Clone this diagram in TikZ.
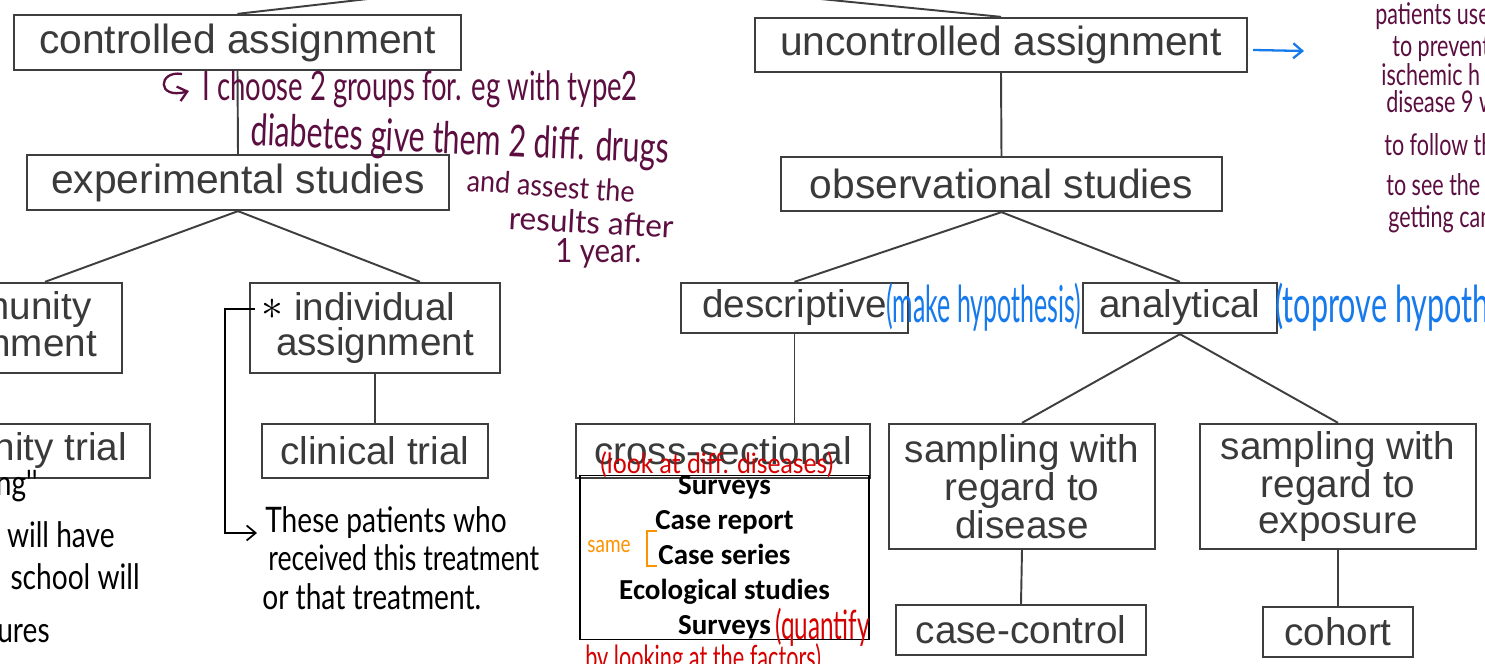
\documentclass[tikz,border=0pt]{standalone}
\usepackage{fontspec}
\setmainfont{Liberation Sans}
\newfontfamily\hand{Lato}
\newfontfamily\calib{Carlito}
\usepackage{xcolor}
\usepackage{tikz}
\usetikzlibrary{arrows.meta, positioning, calc}
\definecolor{boxgray}{RGB}{62,62,62}
\definecolor{txtgray}{RGB}{58,58,58}
\definecolor{inkplum}{RGB}{92,14,64}
\definecolor{inkblue}{RGB}{22,122,236}
\definecolor{inkred}{RGB}{214,0,0}
\definecolor{inkorange}{RGB}{255,146,0}
\newcommand\handfont[2]{\hand\addfontfeatures{FakeStretch=#2}\fontsize{#1}{#1}\selectfont}
\tikzset{
  box/.style={draw=boxgray, line width=1.3pt, text=txtgray, align=center, inner sep=0pt,
    font=\fontsize{22}{20.3}\selectfont},
  topbox/.style={box, font=\fontsize{23.2}{20.3}\selectfont},
  link/.style={draw=boxgray, line width=1.1pt},
  ink/.style={inner sep=0pt, anchor=base west},
  inkl/.style={inner sep=0pt, anchor=base east},
  barb/.style={-{Straight Barb[length=1.8mm, width=3mm]}}
}

\begin{document}
\begin{tikzpicture}[x=0.2mm, y=-0.2mm]
\useasboundingbox (0,0) rectangle (1485,664);
\fill[white] (0,0) rectangle (1485,664);
\clip (0,0) rectangle (1485,664);

% left branch
\node[topbox, minimum width=89.4mm, minimum height=11mm] (ctrl) at (237.5,42.5) {controlled assignment};
\node[topbox, minimum width=84.4mm, minimum height=11mm] (expt) at (238,182.5)  {experimental studies};
\node[box, minimum width=49.6mm, minimum height=18mm]   (comA) at (-2,328)     {community\\assignment};
\node[box, minimum width=50mm, minimum height=18mm]     (indA) at (375,328)    {individual\\assignment};
\node[box, minimum width=61.2mm, minimum height=10.8mm] (comT) at (-3,451)     {community trial};
\node[box, minimum width=45.2mm, minimum height=10.8mm] (clin) at (375,451)    {clinical trial};

% right branch
\node[topbox, minimum width=98.4mm, minimum height=10.8mm] (unc) at (1001,45)    {uncontrolled assignment};
\node[topbox, minimum width=88.2mm, minimum height=10.8mm] (obs) at (1001.5,184) {observational studies};
\node[box, minimum width=45.4mm, minimum height=10mm]   (desc)   at (794.5,308) {descriptive};
\node[box, minimum width=38.8mm, minimum height=10mm]   (anal)   at (1180,308)  {analytical};
\node[box, minimum width=58.8mm, minimum height=10.8mm] (cross)  at (723,451)   {cross-sectional};
\node[box, minimum width=53.2mm, minimum height=25mm]   (sampD)  at (1022,486.5) {sampling with\\regard to\\disease};
\node[box, minimum width=55.2mm, minimum height=25mm]   (sampE)  at (1338,486.5) {sampling with\\regard to\\exposure};
\node[box, minimum width=50mm, minimum height=10mm]     (caseC)  at (1021,630)  {case-control};
\node[box, minimum width=30mm, minimum height=10mm]     (cohort) at (1338,632)  {cohort};

\coordinate (root) at (578,-25);
\draw[link] (root) -- (ctrl.north);
\draw[link] (root) -- (unc.north);
\draw[link] (ctrl.south) -- (expt.north);
\draw[link] (expt.south) -- ([xshift=9.4mm]comA.north);
\draw[link] (expt.south) -- ([xshift=9mm]indA.north);
\draw[link] (comA.south) -- (comT.north);
\draw[link] (indA.south) -- (clin.north);
\draw[link] (unc.south) -- (obs.north);
\draw[link] (obs.south) -- (desc.north);
\draw[link] (obs.south) -- (anal.north);
\draw[link] (desc.south) -- (desc.south |- cross.north);
\draw[link] (anal.south) -- (sampD.north);
\draw[link] (anal.south) -- (sampE.north);
\draw[link] (sampD.south) -- (caseC.north);
\draw[link] (sampE.south) -- (cohort.north);

% pasted list under cross-sectional
\node[draw=black, line width=0.8pt, minimum width=57.8mm, minimum height=31.8mm, inner sep=0pt, align=center,
  font=\calib\bfseries\fontsize{16.5}{19.9}\selectfont] (surv) at (724.5,557.5)
  {Surveys\\Case report\\Case series\\Ecological studies\\Surveys};

% plum notes
\draw[inkplum, line width=1.3pt, barb] (182,74) .. controls (158,70) and (156,100) .. (189,91);
\node[ink, text=inkplum, font=\handfont{23}{0.68}] (note1) at (202,101) {I choose 2 groups for. eg with type2};
\node[ink, text=inkplum, font=\handfont{25}{0.69}, rotate=-2.5] (note2) at (250,145) {diabetes give them 2 diff. drugs};
\node[ink, text=inkplum, font=\handfont{17}{0.9}, rotate=-4] (note3) at (466,191) {and assest the};
\node[ink, text=inkplum, font=\handfont{18}{1.0}, rotate=-3] (note4) at (508,229) {results after};
\node[ink, text=inkplum, font=\handfont{19}{0.88}] (note5) at (555,263) {1 year.};

\node[ink, text=inkplum, font=\handfont{17}{0.72}] (side1) at (1375,25)  {patients use o};
\node[ink, text=inkplum, font=\handfont{17}{0.72}] (side2) at (1392,57)  {to prevent};
\node[ink, text=inkplum, font=\handfont{17}{0.72}] (side3) at (1381,86)  {ischemic h};
\node[ink, text=inkplum, font=\handfont{17}{0.72}] (side4) at (1386,113) {disease 9 w};
\node[ink, text=inkplum, font=\handfont{17}{0.72}] (side5) at (1384,156) {to follow th};
\node[ink, text=inkplum, font=\handfont{17}{0.72}] (side6) at (1386,196) {to see the};
\node[ink, text=inkplum, font=\handfont{17}{0.72}] (side7) at (1388,228) {getting can};

% blue notes
\coordinate (uncnote) at (1304,51);
\draw[inkblue, line width=1.3pt, barb] ([shift={(5,5)}]unc.east) -- (uncnote);
\node[ink, text=inkblue, font=\handfont{29}{0.49}] (mkhyp) at (886,323)  {(make hypothesis)};
\node[ink, text=inkblue, font=\handfont{29}{0.6}] (prhyp) at (1275,323) {(toprove hypoth};

% black notes
\node[font=\fontsize{30}{30}\selectfont] (star) at (272,309) {$\ast$};
\node[ink, font=\handfont{20}{0.8}] (these) at (265,533) {These patients who};
\node[ink, font=\handfont{20}{0.76}]  (these2) at (268,571) {received this treatment};
\node[ink, font=\handfont{20}{0.8}] (these3) at (262,610) {or that treatment.};
\draw[line width=1pt, barb, shorten >=1.6mm] (star.west) -- ++(-30,0) |- (these.base west);

\node[inkl, font=\handfont{20}{0.8}] (left1) at (38,496)  {ng''};
\node[inkl, font=\handfont{20}{0.8}] (left2) at (115,548) {will have};
\node[inkl, font=\handfont{20}{0.8}] (left3) at (140,590) {school will};
\node[inkl, font=\handfont{20}{0.8}] (left4) at (50,643)  {ures};

% red and orange notes
\node[ink, text=inkred, font=\handfont{16}{0.88}] (lookat) at (600,474) {(look at diff. diseases)};
\node[ink, text=inkred, font=\handfont{23}{0.6}] (quant) at (775,640) {(quantify};
\node[ink, text=inkred, font=\handfont{19}{0.65}] (factors) at (585,670) {by looking at the factors)};
\node[ink, text=inkorange, font=\handfont{13.5}{0.8}] (same) at (587,553) {same};
\draw[inkorange, line width=1.3pt] (657,531) -| (647,566) -- (657,566);
\end{tikzpicture}
\end{document}
